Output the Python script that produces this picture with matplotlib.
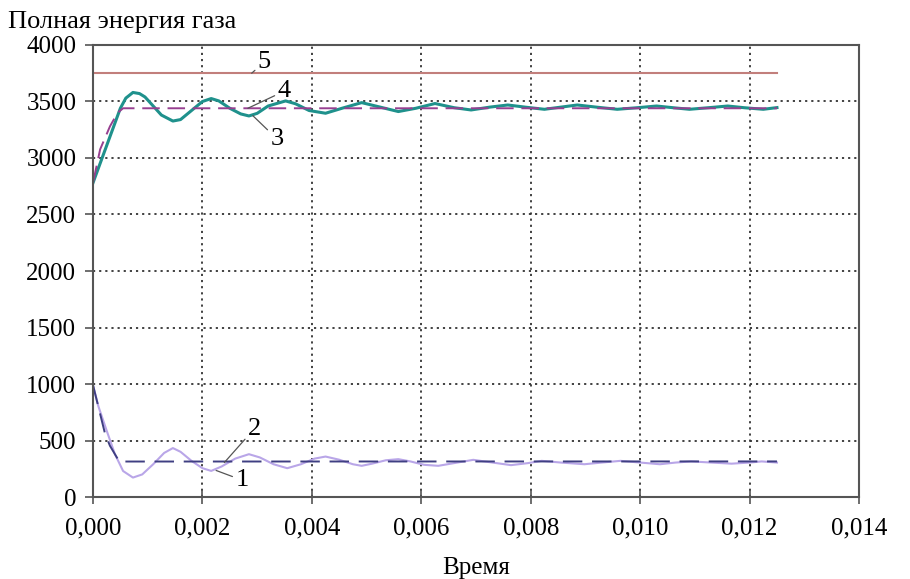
import matplotlib
matplotlib.use("Agg")
import matplotlib.pyplot as plt

plt.rcParams['font.family'] = ['Liberation Serif', 'DejaVu Serif']

# время, мс -> с
t3 = [0, 0.1, 0.2, 0.3, 0.4, 0.5, 0.6, 0.73, 0.85, 0.95, 1.1, 1.25, 1.46, 1.6,
      1.8, 2.0, 2.16, 2.3, 2.5, 2.7, 2.85, 3.0, 3.2, 3.52, 3.7, 3.95, 4.25, 4.55,
      4.91, 5.25, 5.58, 5.9, 6.25, 6.6, 6.91, 7.25, 7.58, 7.9, 8.25, 8.55, 8.85,
      9.2, 9.58, 9.95, 10.3, 10.6, 10.9, 11.25, 11.6, 11.9, 12.25, 12.5]
e3 = [2780, 2912, 3044, 3176, 3308, 3440, 3530, 3580, 3570, 3540, 3460, 3380,
      3327, 3340, 3420, 3500, 3526, 3505, 3440, 3390, 3372, 3395, 3460, 3505,
      3480, 3420, 3396, 3440, 3490, 3450, 3411, 3440, 3482, 3445, 3425, 3450,
      3469, 3450, 3431, 3450, 3469, 3450, 3431, 3445, 3460, 3445, 3431, 3445,
      3460, 3445, 3431, 3446]

t4 = [0, 0.13, 0.31, 0.45, 0.55, 12.5]
e4 = [2780, 3076, 3280, 3400, 3440, 3440]

t5 = [0, 12.5]
e5 = [3750, 3750]

t1 = [0, 0.1, 0.25, 0.4, 0.55, 0.73, 0.9, 1.1, 1.3, 1.46, 1.6, 1.8, 2.0, 2.16,
      2.35, 2.6, 2.85, 3.05, 3.3, 3.55, 3.8, 4.05, 4.25, 4.5, 4.75, 4.91, 5.1,
      5.35, 5.58, 5.8, 6.05, 6.31, 6.6, 6.95, 7.3, 7.64, 7.95, 8.2, 8.55, 8.98,
      9.3, 9.64, 10.0, 10.36, 10.65, 10.93, 11.3, 11.67, 12.0, 12.22, 12.5]
e1 = [990, 800, 587, 380, 230, 172, 200, 290, 390, 433, 400, 320, 255, 231,
      270, 340, 379, 350, 290, 255, 290, 340, 358, 330, 290, 276, 295, 325, 335,
      315, 285, 276, 300, 329, 305, 282, 300, 320, 305, 290, 305, 320, 305, 290,
      305, 315, 305, 295, 305, 315, 305]

t2 = [0, 0.22, 0.31, 0.48, 12.5]
e2 = [990, 560, 453, 314, 315]

xticks = [0, 0.002, 0.004, 0.006, 0.008, 0.010, 0.012, 0.014]
xlabels = ["0,000", "0,002", "0,004", "0,006", "0,008", "0,010", "0,012", "0,014"]
yticks = [0, 500, 1000, 1500, 2000, 2500, 3000, 3500, 4000]

def sec(ms):
    return [v / 1000.0 for v in ms]

fig = plt.figure(figsize=(9.1, 5.79), dpi=100)
ax = fig.add_axes([0.1022, 0.1416, 0.8418, 0.7807])

ax.plot(sec(t5), e5, color="#c27f7c", lw=1.5)
ax.plot(sec(t3), e3, color="#1f918c", lw=2.2)
ax.plot(sec(t4), e4, color="#973f90", lw=1.4, dashes=(9, 4))
ax.plot(sec(t1), e1, color="#b9a6e8", lw=1.5)
ax.plot(sec(t2), e2, color="#3f3f82", lw=1.4, dashes=(10, 5))

ax.set_xlim(0, 0.014)
ax.set_ylim(0, 4000)
ax.set_xticks(xticks)
ax.set_xticklabels(xlabels)
ax.set_yticks(yticks)
ax.grid(True, color="#333333", linestyle=(0, (1.2, 2.2)), lw=1.3)
ax.set_axisbelow(True)
for s in ax.spines.values():
    s.set_color("#555555")
    s.set_linewidth(1.5)
ax.tick_params(axis="y", direction="out", length=6, width=1.2, color="#555555",
               labelsize=18, pad=6)
ax.tick_params(axis="x", direction="inout", length=10, width=1.2, color="#555555",
               labelsize=18, pad=10)

ax.set_xlabel("Время", fontsize=18, labelpad=12)
fig.text(0.009, 0.962, "Полная энергия газа", fontsize=19, ha="left", va="center")

lead = dict(arrowstyle="-", color="#555555", lw=0.9, shrinkA=0, shrinkB=0)
ax.annotate("5", xy=(0.00290, 3750), xytext=(0.00313, 3850), fontsize=19,
            ha="center", va="center", arrowprops=lead)
ax.annotate("4", xy=(0.00283, 3440), xytext=(0.00349, 3590), fontsize=19,
            ha="center", va="center", arrowprops=lead)
ax.annotate("3", xy=(0.00292, 3375), xytext=(0.00336, 3170), fontsize=19,
            ha="center", va="center", arrowprops=lead)
ax.annotate("2", xy=(0.00240, 305), xytext=(0.00295, 605), fontsize=19,
            ha="center", va="center", arrowprops=lead)
ax.annotate("1", xy=(0.00225, 235), xytext=(0.00272, 150), fontsize=19,
            ha="center", va="center", arrowprops=lead)

fig.savefig("out.png", dpi=100)
